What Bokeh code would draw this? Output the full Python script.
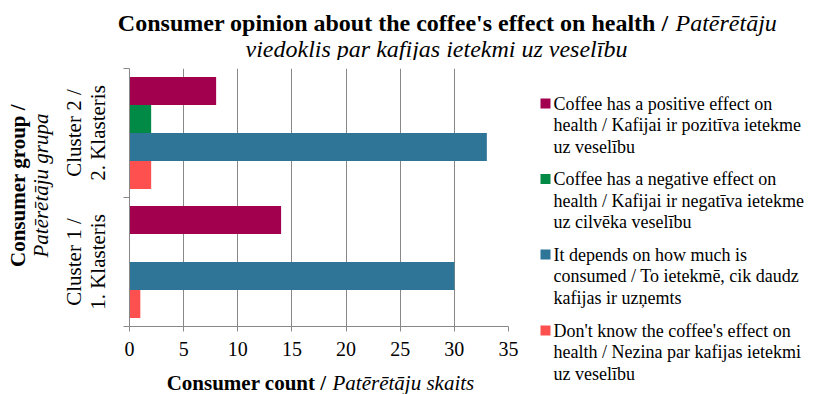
from math import pi
from bokeh.plotting import figure
from bokeh.layouts import column, row
from bokeh.models import Range1d, FixedTicker
from bokeh.core.properties import value
from bokeh.embed import file_html
from bokeh.resources import INLINE

# ---- data ----
clusters = ["Cluster 1 /\n1. Klasteris", "Cluster 2 /\n2. Klasteris"]
series_labels = [
    "Coffee has a positive effect on\nhealth /  Kafijai ir pozitīva ietekme\nuz veselību",
    "Coffee has a negative effect on\nhealth / Kafijai ir negatīva ietekme\nuz cilvēka veselību",
    "It depends on how much is\nconsumed / To ietekmē, cik daudz\nkafijas ir uzņemts",
    "Don't know the coffee's effect on\nhealth / Nezina par kafijas ietekmi\nuz veselību",
]
positive = [14, 8]
negative = [0, 2]
depends = [30, 33]
dont_know = [1, 2]
x_ticks = [0, 5, 10, 15, 20, 25, 30, 35]

title_bold = "Consumer opinion about the coffee's effect on health /"
title_italic_1 = "Patērētāju"
title_italic_2 = "viedoklis par kafijas ietekmi uz veselību"
xtitle_bold = "Consumer count /"
xtitle_italic = "Patērētāju skaits"
ytitle_bold = "Consumer group /"
ytitle_italic = "Patērētāju grupa"

series_values = [positive, negative, depends, dont_know]
colors = ["#A2004F", "#008A46", "#2E7598", "#FF5050"]

FONT = "Liberation Serif"
GRAY = "#888888"

W, H = 816, 394
TOP_H = 60                 # title strip
BODY_H = H - TOP_H         # 334
XT_H = 30                  # x title strip under chart
MAIN_H = BODY_H - XT_H     # 304
YT_W = 58
MAIN_W = 470
LG_W = W - YT_W - MAIN_W


def text_fig(w, h, flip=True):
    f = figure(width=w, height=h, output_backend="svg", toolbar_location=None,
               x_range=Range1d(0, w), y_range=Range1d(h, 0) if flip else Range1d(0, h),
               x_axis_location=None, y_axis_location=None,
               min_border=0, min_border_left=0, min_border_right=0,
               min_border_top=0, min_border_bottom=0, frame_align=False)
    f.outline_line_color = None
    f.grid.visible = False
    return f


def txt(f, x, y, s, size, style="normal", align="center", angle=0):
    f.text(x=[x], y=[y], text=[s], text_font=value(FONT), text_font_size=size,
           text_font_style=style, text_align=align, text_baseline="middle",
           angle=angle, text_color="black")


# ---- title strip (canvas y 0..60) ----
t = text_fig(W, TOP_H)
txt(t, 668, 22, title_bold, "24px", "bold", "right")
txt(t, 675, 22, title_italic_1, "24px", "italic", "left")
txt(t, 436, 48, title_italic_2, "24px", "italic", "center")

# ---- y title ----
yt = text_fig(YT_W, BODY_H, flip=False)
yc = H - 185
txt(yt, 17, yc, ytitle_bold, "21px", "bold", "center", pi / 2)
txt(yt, 40, yc, ytitle_italic, "21px", "italic", "center", pi / 2)

# ---- main chart ----
p = figure(width=MAIN_W, height=MAIN_H, output_backend="svg", toolbar_location=None,
           x_range=Range1d(0, 35), y_range=Range1d(0, 2),
           min_border_left=70, min_border_right=20,
           min_border_top=8, min_border_bottom=MAIN_H - 8 - 258, frame_align=False)
p.outline_line_color = None

bar_h = 0.217
for i, (vals, col) in enumerate(zip(series_values, colors)):
    off = (1.5 - i) * bar_h
    ys = [k + 0.5 + off for k in range(len(clusters))]
    p.hbar(y=ys, left=0, right=vals, height=bar_h, fill_color=col, line_color=None)

p.xaxis.ticker = FixedTicker(ticks=x_ticks)
p.xaxis.axis_line_color = GRAY
p.xaxis.major_tick_line_color = GRAY
p.xaxis.major_tick_out = 5
p.xaxis.major_tick_in = 0
p.xaxis.minor_tick_line_color = None
p.xaxis.major_label_text_font = FONT
p.xaxis.major_label_text_font_size = "20px"
p.xaxis.major_label_text_color = "black"
p.xaxis.major_label_standoff = 10

p.yaxis.ticker = FixedTicker(ticks=[0.5, 1.5], minor_ticks=[0, 1, 2])
p.yaxis.major_label_overrides = {0.5: clusters[0], 1.5: clusters[1]}
p.yaxis.major_label_orientation = "vertical"
p.yaxis.axis_line_color = GRAY
p.yaxis.major_tick_line_color = None
p.yaxis.major_tick_out = 0
p.yaxis.major_tick_in = 0
p.yaxis.minor_tick_line_color = GRAY
p.yaxis.minor_tick_out = 6
p.yaxis.minor_tick_in = 0
p.yaxis.major_label_text_font = FONT
p.yaxis.major_label_text_font_size = "21px"
p.yaxis.major_label_text_line_height = 1.0
p.yaxis.major_label_text_color = "black"
p.yaxis.major_label_standoff = 14

p.xgrid.ticker = FixedTicker(ticks=x_ticks)
p.xgrid.grid_line_color = GRAY
p.ygrid.grid_line_color = None

# ---- x title strip (under chart) ----
XT_X0, XT_Y0 = YT_W, TOP_H + MAIN_H
xt = text_fig(MAIN_W, XT_H)
txt(xt, 326 - XT_X0, 382 - XT_Y0, xtitle_bold, "21px", "bold", "right")
txt(xt, 332 - XT_X0, 382 - XT_Y0, xtitle_italic, "21px", "italic", "left")

# ---- legend ----
LG_X0 = YT_W + MAIN_W
lg = text_fig(LG_W, BODY_H)
first_line_y = [103, 178.5, 254, 330]
line_step = 21.5
for lab, col, y0 in zip(series_labels, colors, first_line_y):
    lg.scatter(x=[545 - LG_X0], y=[y0 - TOP_H], marker="square", size=10,
               fill_color=col, line_color=None)
    for j, line in enumerate(lab.split("\n")):
        txt(lg, 553 - LG_X0, y0 + j * line_step - TOP_H, line, "18px", "normal", "left")

layout = column(t, row(yt, column(p, xt), lg))
open("out.html", "w").write(file_html(layout, INLINE))
